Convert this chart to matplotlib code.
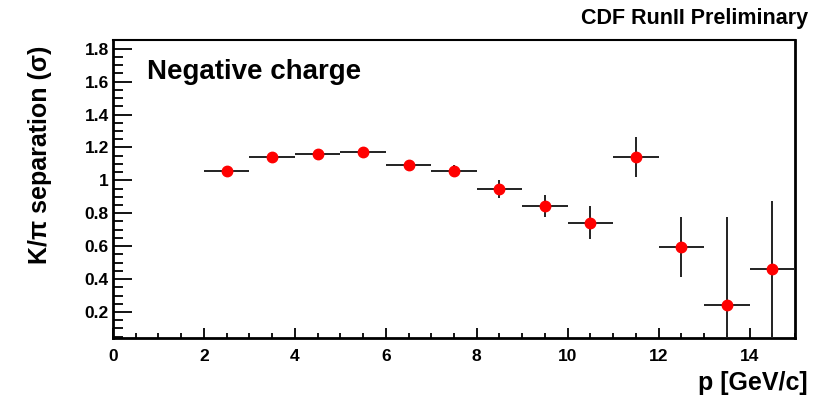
import matplotlib
matplotlib.use("Agg")
import matplotlib.pyplot as plt
from matplotlib.ticker import MultipleLocator
import numpy as np

plt.rcParams["font.family"] = ["Liberation Sans", "DejaVu Sans"]
plt.rcParams["font.weight"] = "bold"

# K/pi separation per momentum bin (bin centres, half-widths, values, errors)
p_centres = [2.5, 3.5, 4.5, 5.5, 6.5, 7.5, 8.5, 9.5, 10.5, 11.5, 12.5, 13.5, 14.5]
p_halfwidth = [0.5] * 13
separation = [1.056, 1.140, 1.162, 1.170, 1.093, 1.058, 0.947, 0.844, 0.742,
              1.143, 0.597, 0.242, 0.459]
sep_error = [0.010, 0.012, 0.012, 0.012, 0.015, 0.035, 0.057, 0.066, 0.100,
             0.120, 0.183, 0.535, 0.415]

fig = plt.figure(figsize=(8.21, 4.01), dpi=100)
ax = fig.add_axes([0.1376, 0.157, 0.8307, 0.743])

ax.errorbar(p_centres, separation, xerr=p_halfwidth, yerr=sep_error,
            fmt="o", color="red", markersize=7.5, ecolor="#222222",
            elinewidth=1.4, capsize=0, zorder=3)

ax.set_xlim(0, 15)
ax.set_ylim(0.042, 1.852)

ax.xaxis.set_major_locator(MultipleLocator(2))
ax.xaxis.set_minor_locator(MultipleLocator(0.5))
ax.yaxis.set_major_locator(MultipleLocator(0.2))
ax.yaxis.set_minor_locator(MultipleLocator(0.05))

ax.tick_params(axis="both", which="both", direction="in", width=1.3,
               top=False, right=False, labelsize=12.5)
ax.tick_params(axis="y", which="major", length=14, pad=3)
ax.tick_params(axis="y", which="minor", length=7)
ax.tick_params(axis="x", which="major", length=7, pad=8)
ax.tick_params(axis="x", which="minor", length=3.5)

ax.set_yticks([0.2, 0.4, 0.6, 0.8, 1.0, 1.2, 1.4, 1.6, 1.8])
ax.set_yticklabels(["0.2", "0.4", "0.6", "0.8", "1", "1.2", "1.4", "1.6", "1.8"])

for side in ["left", "bottom", "right"]:
    ax.spines[side].set_linewidth(2)
ax.spines["top"].set_linewidth(1.5)

ax.text(0.05, 0.935, "Negative charge", transform=ax.transAxes,
        fontsize=20, fontweight="bold", va="top", ha="left")

fig.text(0.984, 0.955, "CDF RunII Preliminary", fontsize=15.5,
         fontweight="bold", ha="right", va="center")
fig.text(0.984, 0.045, "p [GeV/c]", fontsize=18, fontweight="bold",
         ha="right", va="center")
fig.text(0.049, 0.615, "K/π separation (σ)",
         fontsize=18, fontweight="bold", rotation=90, ha="center", va="center")

fig.savefig("out.png", dpi=100)
